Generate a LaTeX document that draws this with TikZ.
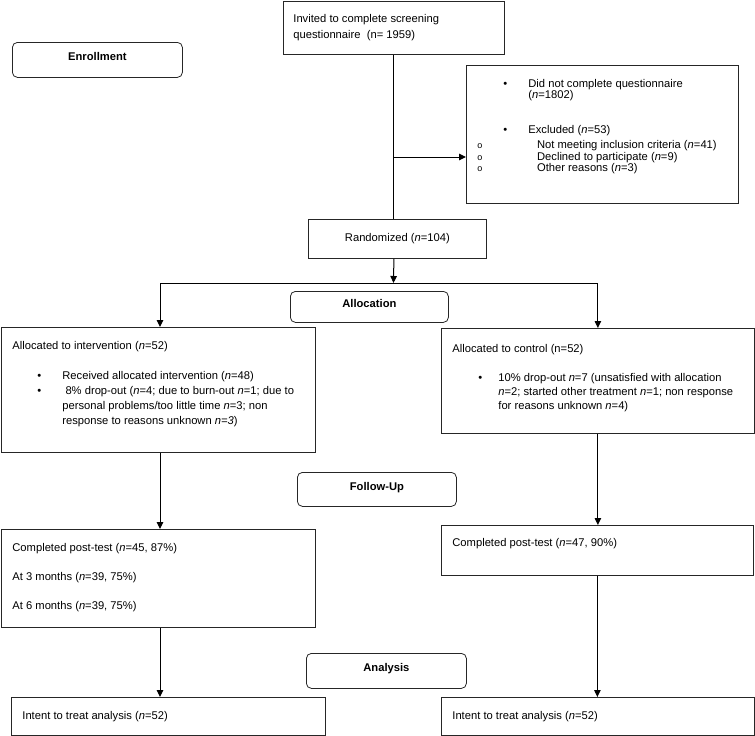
\documentclass[tikz,border=0pt]{standalone}
\usepackage{fontspec}
\setmainfont{Liberation Sans}
\usepackage{tikz}
\usetikzlibrary{positioning}
\usetikzlibrary{arrows,arrows.meta}
\usetikzlibrary{calc}
\tikzstyle{block} = [draw=black!85, line width=0.8pt, rectangle, anchor=north west, inner xsep=11pt]
\tikzstyle{stage} = [draw=black!85, line width=0.8pt, rectangle, rounded corners=5pt, anchor=north west, font=\fontsize{11.2}{15}\selectfont\bfseries, text height=8pt, text depth=6.5pt]
\tikzstyle{coord} = [coordinate]
\tikzstyle{line} = [draw=black, line width=1pt]
\newcommand{\bodytext}[3]{\begin{minipage}[t][#2][t]{#1}#3\end{minipage}}
\newcommand{\nn}{\textit{n}}
\newcommand{\bul}[1]{\makebox[#1][l]{•}}
\newcommand{\subbul}[1]{\makebox[#1][l]{\fontsize{9}{9}\selectfont o}}

\begin{document}
\begin{tikzpicture}[x=1pt, y=-1pt, >={Triangle[length=7pt,width=6.5pt]}, font=\fontsize{11.2}{15}\selectfont]
	\useasboundingbox (0,0) rectangle (755,736);

	\node [stage, minimum width=170pt, minimum height=35pt] (enroll) at (12,42) {Enrollment};
	\node [block, inner xsep=10pt, inner ysep=12.8pt, font=\fontsize{11.2}{16}\selectfont] (invite) at (283,1)
		{\bodytext{201pt}{27.4pt}{Invited to complete screening\\questionnaire~~(n= 1959)}};
	\node [block, inner xsep=10pt, inner ysep=13.8pt, font=\fontsize{11.2}{11.5}\selectfont] (excl) at (466,65)
		{\bodytext{252pt}{110.4pt}{%
		\hspace*{27pt}\bul{25pt}Did not complete questionnaire\\
		\hspace*{52pt}(\nn=1802)\par\vspace{23.5pt}
		\hspace*{27pt}\bul{25pt}Excluded (\nn=53)\par\vspace{3.5pt}
		\hspace*{1pt}\subbul{59.7pt}Not meeting inclusion criteria (\nn=41)\\
		\hspace*{1pt}\subbul{59.7pt}Declined to participate (\nn=9)\\
		\hspace*{1pt}\subbul{59.7pt}Other reasons (\nn=3)}};
	\node [block, inner xsep=0pt, minimum width=178pt, minimum height=39pt] (rand) at (308,219)
		{Randomized (\nn=104)};
	\node [stage, minimum width=158pt, minimum height=31pt] (alloc) at (290,291) {Allocation};

	\node [block, inner ysep=13.8pt] (interv) at (1,327)
		{\bodytext{292pt}{97.4pt}{Allocated to intervention (\nn=52)\par\vspace{15pt}
		\hspace*{25pt}\bul{25pt}Received allocated intervention (\nn=48)\\
		\hspace*{25pt}\bul{25pt} 8\% drop-out (\nn=4; due to burn-out \nn=1; due to\\
		\hspace*{50pt}personal problems/too little time \nn=3; non\\
		\hspace*{50pt}response to reasons unknown \textit{n=3})}};
	\node [block, inner ysep=15.8pt, font=\fontsize{11.2}{14}\selectfont] (control) at (441,328)
		{\bodytext{291pt}{73.4pt}{Allocated to control (n=52)\par\vspace{15pt}
		\hspace*{26pt}\bul{20pt}10\% drop-out \nn=7 (unsatisfied with allocation\\
		\hspace*{46pt}\nn=2; started other treatment \nn=1; non response\\
		\hspace*{46pt}for reasons unknown \nn=4)}};

	\node [stage, minimum width=159pt, minimum height=34pt] (follow) at (297,472) {Follow-Up};
	\node [block, inner ysep=13.8pt, font=\fontsize{11.2}{14.5}\selectfont] (complL) at (1,529)
		{\bodytext{292pt}{70.4pt}{Completed post-test (\nn=45, 87\%)\par\vspace{14.5pt}
		At 3 months (\nn=39, 75\%)\par\vspace{14.5pt}
		At 6 months (\nn=39, 75\%)}};
	\node [block, inner ysep=12.8pt] (complR) at (441,525)
		{\bodytext{290pt}{24.4pt}{Completed post-test (\nn=47, 90\%)}};

	\node [stage, minimum width=160pt, minimum height=35pt] (analysis) at (306,653) {Analysis};
	\node [block, inner ysep=13.5pt] (itlL) at (11,697)
		{\bodytext{292pt}{11pt}{Intent to treat analysis (\nn=52)}};
	\node [block, inner ysep=13.5pt] (itlR) at (441,697)
		{\bodytext{291pt}{11pt}{Intent to treat analysis (\nn=52)}};

	\node [coord] (exclsplit) at (393.5,157) {};
	\node [coord] (split) at (393.5,283) {};
	\node [coord] (lcol) at (160,0) {};

	\draw [line] (invite.south) -- (invite.south |- rand.north);
	\draw [line, ->] (exclsplit) -- (exclsplit -| excl.west);
	\draw [line, ->] (invite.south |- rand.south) -- (split);
	\draw [line, ->] (split) -| (lcol |- interv.north);
	\draw [line, ->] (split) -| (control.north);
	\draw [line, ->] (lcol |- interv.south) -- (lcol |- complL.north);
	\draw [line, ->] (lcol |- complL.south) -- (lcol |- itlL.north);
	\draw [line, ->] (control.south) -- (control.south |- complR.north);
	\draw [line, ->] (complR.south) -- (complR.south |- itlR.north);
\end{tikzpicture}
\end{document}
